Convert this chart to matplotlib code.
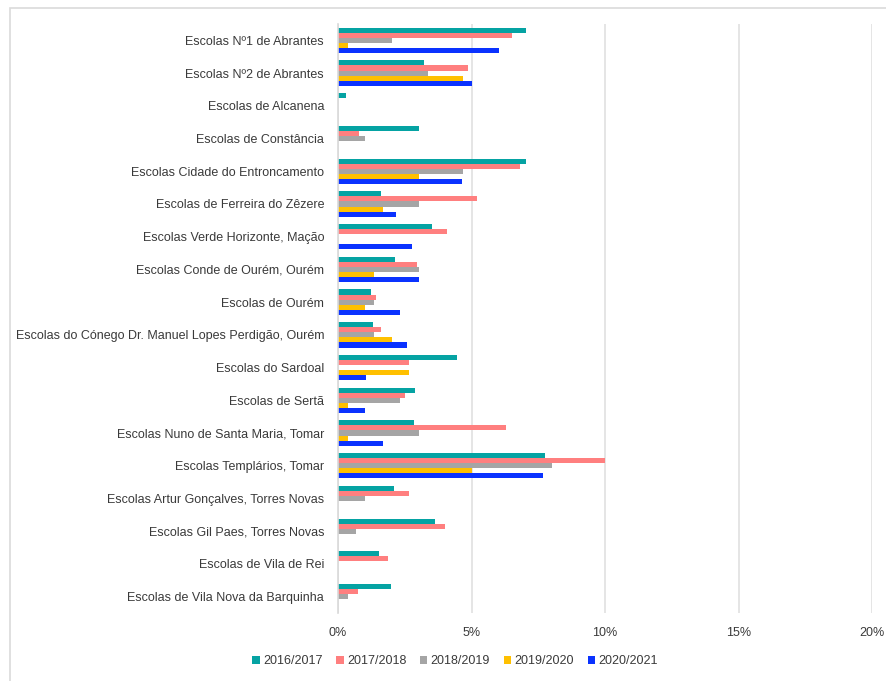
import matplotlib.pyplot as plt
import numpy as np
from matplotlib.patches import Rectangle

plt.rcParams['font.family'] = ['Liberation Sans', 'DejaVu Sans']

schools = [
    "Escolas Nº1 de Abrantes",
    "Escolas Nº2 de Abrantes",
    "Escolas de Alcanena",
    "Escolas de Constância",
    "Escolas Cidade do Entroncamento",
    "Escolas de Ferreira do Zêzere",
    "Escolas Verde Horizonte, Mação",
    "Escolas Conde de Ourém, Ourém",
    "Escolas de Ourém",
    "Escolas do Cónego Dr. Manuel Lopes Perdigão, Ourém",
    "Escolas do Sardoal",
    "Escolas de Sertã",
    "Escolas Nuno de Santa Maria, Tomar",
    "Escolas Templários, Tomar",
    "Escolas Artur Gonçalves, Torres Novas",
    "Escolas Gil Paes, Torres Novas",
    "Escolas de Vila de Rei",
    "Escolas de Vila Nova da Barquinha",
]

years = ["2016/2017", "2017/2018", "2018/2019", "2019/2020", "2020/2021"]

# percentages
y2016 = [7.04, 3.23, 0.31, 3.02, 7.04, 1.60, 3.53, 2.12, 1.22, 1.30, 4.47, 2.88, 2.83, 7.76, 2.08, 3.62, 1.52, 1.98]
y2017 = [6.53, 4.86, 0.0, 0.79, 6.83, 5.19, 4.08, 2.97, 1.43, 1.60, 2.67, 2.51, 6.30, 10.0, 2.67, 4.01, 1.86, 0.75]
y2018 = [2.03, 3.36, 0.0, 1.00, 4.68, 3.02, 0.0, 3.02, 1.33, 1.33, 0.0, 2.33, 3.02, 8.01, 1.00, 0.66, 0.0, 0.36]
y2019 = [0.36, 4.68, 0.0, 0.0, 3.02, 1.68, 0.0, 1.35, 1.00, 2.03, 2.67, 0.36, 0.36, 5.03, 0.0, 0.0, 0.0, 0.0]
y2020 = [6.02, 5.03, 0.0, 0.0, 4.64, 2.17, 2.76, 3.02, 2.32, 2.58, 1.04, 1.00, 1.68, 7.68, 0.0, 0.0, 0.0, 0.0]

series = [y2016, y2017, y2018, y2019, y2020]
colors = ['#05A3A3', '#FF7F7F', '#A5A5A5', '#FFC000', '#0A32FF']

fig = plt.figure(figsize=(8.86, 6.81), dpi=100)
ax = fig.add_axes([338 / 886, 1 - 613 / 681, (872 - 338) / 886, (613 - 24) / 681])

# light frame around the whole chart
fig.patches.append(Rectangle((10 / 886, -0.01), 1.0, 1 - 8 / 681 + 0.01,
                             transform=fig.transFigure, fill=False,
                             edgecolor='#DADADA', linewidth=1.2))

pos = np.arange(len(schools))
step = 0.155
for i, (vals, col, lab) in enumerate(zip(series, colors, years)):
    ax.barh(pos + (i - 2) * step, vals, height=step, color=col, label=lab)

ax.set_xlim(0, 20)
ax.set_ylim(len(schools) - 0.5, -0.5)
ax.set_xticks([0, 5, 10, 15, 20])
ax.set_xticklabels([f"{v}%" for v in [0, 5, 10, 15, 20]])
ax.set_yticks(pos)
ax.set_yticklabels(schools)
ax.tick_params(axis='both', length=0, labelsize=9, colors='#3A3A3A')
ax.tick_params(axis='y', pad=10)
ax.tick_params(axis='x', pad=10)

ax.grid(axis='x', color='#E0E0E0', linewidth=1.2)
ax.set_axisbelow(True)
for s in ['top', 'right', 'bottom']:
    ax.spines[s].set_visible(False)
ax.spines['left'].set_color('#D9D9D9')
ax.spines['left'].set_linewidth(1.2)

fig.legend(loc='center', bbox_to_anchor=(455 / 886, 1 - 661 / 681), ncol=5,
           frameon=False, fontsize=9, handlelength=0.6, handleheight=0.6,
           handletextpad=0.25, columnspacing=1.1, labelcolor='#3A3A3A')

fig.savefig('out.png', dpi=100)
